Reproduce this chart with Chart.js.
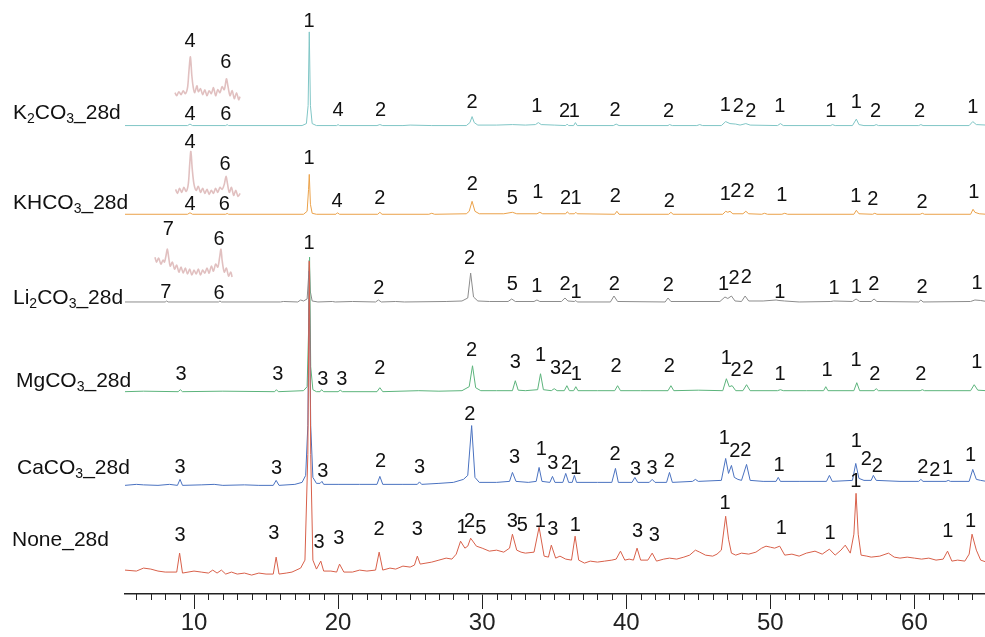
<!DOCTYPE html>
<html>
<head>
<meta charset="utf-8">
<script src="https://cdn.jsdelivr.net/npm/chart.js@4.4.1/dist/chart.umd.min.js"></script>
<style>
  html, body { margin: 0; background: #fff; }
  #wrap { width: 985px; height: 637px; }
</style>
</head>
<body>
<div id="wrap"><canvas id="xrd" width="985" height="637"></canvas></div>
<script>
// 2-theta axis
const majorTicks = [10, 20, 30, 40, 50, 60];
const minorTicks = [6, 7, 8, 9, 11, 12, 13, 14, 15, 16, 17, 18, 19, 21, 22, 23, 24, 25, 26, 27, 28, 29,
  31, 32, 33, 34, 35, 36, 37, 38, 39, 41, 42, 43, 44, 45, 46, 47, 48, 49, 51, 52, 53, 54, 55, 56, 57, 58, 59,
  61, 62, 63, 64];

// vertical offsets of the stacked patterns
const offsets = [20, 109, 203, 293, 381, 470]; // None, CaCO3, MgCO3, Li2CO3, KHCO3, K2CO3

// [2theta, intensity above own baseline]
const noneData = [[5.2,4],[6.0,3],[6.5,6],[7.0,5],[7.5,3],[8.0,2],[8.8,2],[9.0,21],[9.2,1],[10.0,3],[10.5,2],[11.0,1],[11.3,4],[11.6,1],[11.9,4],[12.2,0],[12.6,2],[13.0,0],[13.5,1],[14.0,-1],[14.5,1],[15.0,0],[15.5,0],[15.7,17],[15.9,0],[16.4,1],[16.8,2],[17.4,6],[17.7,14],[17.9,120],[18.0,314],[18.1,120],[18.25,14],[18.5,5],[18.8,13],[19.0,3],[19.5,3],[19.9,2],[20.1,10],[20.4,2],[21.0,2],[21.5,4],[22.0,3],[22.6,4],[22.85,22],[23.1,4],[23.6,6],[24.0,5],[24.5,8],[25.0,7],[25.3,9],[25.5,18],[25.7,10],[26.1,11],[26.5,12],[27.0,14],[27.5,16],[27.9,15],[28.2,20],[28.5,33],[28.8,26],[29.0,28],[29.2,36],[29.6,28],[30.0,26],[30.5,23],[31.0,24],[31.5,22],[31.9,26],[32.1,40],[32.4,24],[32.7,22],[33.0,21],[33.6,22],[33.95,47],[34.3,18],[34.6,17],[34.8,29],[35.1,16],[35.4,18],[35.8,15],[36.2,14],[36.45,38],[36.7,14],[37.1,11],[37.5,13],[38.0,12],[38.5,13],[39.0,14],[39.3,15],[39.6,23],[39.9,14],[40.2,15],[40.5,14],[40.75,26],[41.0,14],[41.5,14],[41.8,21],[42.1,13],[42.6,15],[43.0,16],[43.5,15],[44.0,17],[44.4,19],[44.8,24],[45.1,22],[45.5,19],[46.0,18],[46.3,20],[46.6,24],[46.9,58],[47.1,35],[47.3,21],[47.6,19],[48.0,21],[48.5,20],[49.0,22],[49.4,26],[49.7,28],[50.0,27],[50.3,26],[50.65,28],[51.0,19],[51.5,20],[52.0,18],[52.5,21],[53.1,23],[53.6,20],[54.1,25],[54.5,19],[54.9,24],[55.2,29],[55.55,21],[55.8,40],[55.95,81],[56.1,40],[56.3,19],[56.7,18],[57.0,17],[57.6,18],[58.2,21],[58.6,17],[59.0,16],[59.5,17],[60.0,16],[60.5,15],[61.0,16],[61.5,14],[62.0,15],[62.3,23],[62.6,13],[63.0,14],[63.5,13],[63.8,20],[64.0,40],[64.3,24],[64.6,14],[65.0,12]];

const caco3Data = [[5.2,0],[6.0,1],[6.5,0.5],[7.5,0],[8.3,1],[8.85,0],[9.03,6],[9.2,0],[10.5,0.5],[11.4,1],[12.0,0],[13.5,0.5],[14.5,0],[15.5,0],[15.7,5],[15.9,0],[17.0,1],[17.5,3],[17.75,10],[17.9,60],[18.0,215],[18.1,60],[18.25,8],[18.5,2],[18.75,2],[18.88,4],[19.0,1],[20.0,1],[21.5,1],[22.7,1],[22.9,9],[23.1,1],[24.5,1],[25.5,1],[25.65,3.5],[25.8,1],[27.0,2],[28.0,3],[28.7,6],[29.0,10],[29.27,60],[29.5,8],[29.8,3],[31.0,3],[31.9,4],[32.1,13],[32.35,4],[33.2,3],[33.75,4],[33.95,18],[34.15,4],[34.7,3],[34.88,9],[35.05,3],[35.6,3],[35.8,12],[36.0,3],[36.25,3],[36.4,10],[36.55,3],[38.0,3],[39.0,3],[39.25,17],[39.45,3],[40.4,3],[40.6,8],[40.8,3],[41.6,3],[41.8,6],[42.0,3],[42.8,3],[43.0,13],[43.2,3],[44.6,4],[44.8,6],[45.0,4],[46.6,5],[46.9,27],[47.1,12],[47.3,20],[47.5,8],[47.75,6],[48.0,5],[48.35,21],[48.6,5],[49.5,4],[50.4,4],[50.55,8],[50.7,4],[52.0,4],[53.9,4],[54.1,10],[54.3,4],[55.7,5],[55.93,22],[56.15,7],[56.5,5],[57.0,5],[57.15,10],[57.35,5],[59.0,4],[60.3,4],[60.45,6],[60.6,4],[62.2,4],[62.35,5],[62.5,4],[63.8,4],[64.05,16],[64.3,6],[64.6,5],[65.0,4]];

const mgco3Data = [[5.2,0],[6.5,0.5],[8.9,0],[9.05,2],[9.2,0],[12.0,0.5],[15.6,0],[15.72,2],[15.85,0],[17.6,1],[17.85,5],[17.95,60],[18.02,135],[18.1,25],[18.25,2],[18.5,0],[18.75,0],[18.85,2],[19.0,0],[20.0,0],[20.15,1.5],[20.3,0],[22.7,0],[22.9,4],[23.1,0],[25.6,1],[27.0,0.5],[28.6,1],[29.1,5],[29.33,26],[29.55,4],[29.9,1],[31.0,1],[32.1,1],[32.3,11],[32.5,1.5],[33.0,1],[33.85,2],[34.05,18],[34.25,2],[34.8,1],[35.0,3],[35.2,1],[35.7,1],[35.88,6],[36.05,1],[36.35,1],[36.5,5],[36.65,1],[38.0,1],[39.2,1],[39.4,6],[39.6,1],[41.0,1],[42.9,1],[43.1,6],[43.3,1],[45.0,1.5],[46.7,1],[46.95,13],[47.15,5],[47.35,6],[47.6,1],[48.1,1],[48.35,7],[48.6,1],[50.5,1],[50.7,2],[50.9,1],[52.5,1],[53.7,1],[53.85,5],[54.0,1],[55.8,1],[56.0,9],[56.2,1],[57.2,1],[57.35,3],[57.5,1],[60.4,1],[60.55,2],[60.7,1],[63.9,1],[64.15,7],[64.4,1.5],[65.0,1]];

const li2co3Data = [[5.2,0],[8.0,0],[8.1,1],[8.2,0],[11.7,0],[11.8,1],[11.9,0],[16.0,0],[16.2,0.5],[17.2,0],[17.4,2],[17.6,1],[17.85,3],[17.95,25],[18.0,42],[18.08,10],[18.2,1],[18.6,0],[19.6,0.5],[19.8,0],[21.0,0.5],[22.6,0],[22.8,2],[23.0,0],[24.0,0.5],[24.6,0],[27.5,0.5],[28.6,1],[29.0,4],[29.2,29],[29.4,5],[29.7,1],[30.5,0.5],[31.8,0.5],[32.05,3],[32.3,0.5],[33.6,0.5],[33.8,2],[34.0,0.5],[35.5,0.5],[35.75,4],[35.95,1],[36.4,0.5],[36.5,1.5],[36.6,0],[38.9,0],[39.15,6],[39.4,0.5],[42.7,0],[42.9,4],[43.1,0.5],[46.5,0.5],[46.85,5],[47.05,3.5],[47.3,6],[47.55,1],[48.0,0.5],[48.25,6],[48.5,1],[49.5,1],[50.4,2],[50.6,1.5],[51.0,1],[52.0,0],[54.2,0.5],[54.4,1],[55.7,0.5],[55.95,3],[56.2,0.5],[57.0,0.5],[57.2,3],[57.4,0.5],[60.3,0],[60.45,2],[60.6,0],[63.9,0.5],[64.2,2],[64.6,1.5],[65.0,0.5]];

const khco3Data = [[5.2,0],[9.55,0],[9.72,1.5],[9.9,0],[12.2,0],[12.3,0.8],[12.4,0],[17.6,0],[17.85,3],[17.95,25],[18.0,40],[18.08,10],[18.2,1],[18.5,0],[19.85,0],[19.95,1.5],[20.1,0],[22.75,0],[22.9,2],[23.05,0],[26.3,0],[26.5,1],[26.7,0],[28.9,0.5],[29.1,3],[29.3,13],[29.5,3],[29.8,0.5],[31.5,0.5],[32.1,2],[32.4,0.5],[33.8,0.5],[34.0,2],[34.2,0.5],[35.8,0.5],[35.9,2.5],[36.05,0.5],[36.4,0.5],[36.5,2],[36.6,0.5],[39.2,0],[39.35,3],[39.5,0],[42.95,0],[43.1,2],[43.25,0],[46.7,0],[46.9,3],[47.05,2],[47.2,3],[47.4,0.5],[48.1,0.5],[48.3,3],[48.5,0.5],[49.4,0],[49.6,1],[49.8,0],[50.8,0],[51.0,1],[51.2,0],[55.8,0],[55.97,4],[56.15,0.5],[57.1,0],[57.25,1],[57.4,0],[60.4,0],[60.55,1],[60.7,0],[63.9,0],[64.07,5],[64.2,2],[64.5,0.5],[65.0,0]];

const k2co3Data = [[5.2,0],[9.55,0],[9.72,1.5],[9.9,0],[12.2,0],[12.3,1],[12.4,0],[17.5,0],[17.8,2],[17.92,20],[18.0,94],[18.08,20],[18.2,2],[18.5,0],[19.9,0],[20.0,1],[20.1,0],[22.7,0],[22.9,1],[23.1,0],[24.5,0],[25.0,0.5],[26.5,0],[28.9,0],[29.15,3],[29.3,9],[29.45,3],[29.7,0.5],[31.0,0.5],[32.1,1],[33.0,0.5],[33.7,1],[33.9,3],[34.1,1],[35.0,0.5],[35.8,0],[35.9,1.5],[36.0,0],[36.35,0],[36.47,3],[36.6,0],[39.1,0],[39.3,1.5],[39.5,0],[42.9,0],[43.0,1],[43.2,0],[44.9,0],[45.1,1],[45.3,0],[46.6,0],[46.9,4],[47.2,2],[47.6,1.5],[47.9,0.5],[48.3,2],[48.6,0.5],[50.5,0],[50.7,2],[50.9,0],[54.2,0],[54.3,1],[54.5,0],[55.7,0],[55.97,6.5],[56.15,1],[56.5,0],[57.2,0],[57.35,1],[57.5,0],[60.3,0],[60.45,1],[60.6,0],[63.8,0],[64.05,4],[64.3,1],[65.0,0.5]];

// magnified insets (pasted zooms of the 4/6/7 reflections), relative to the row baseline
const k2co3Inset = [[8.68,33],[8.8,30],[8.95,34],[9.1,31],[9.25,35],[9.4,32],[9.55,38],[9.65,55],[9.75,69],[9.85,50],[9.95,38],[10.05,33],[10.2,40],[10.3,34],[10.45,37],[10.6,31],[10.75,36],[10.9,30],[11.05,35],[11.2,32],[11.35,38],[11.5,30],[11.65,36],[11.8,33],[11.95,39],[12.1,36],[12.25,47],[12.35,40],[12.5,30],[12.65,35],[12.8,27],[12.95,33],[13.1,26],[13.19,29]];
const khco3Inset = [[8.72,25],[8.85,21],[9.0,26],[9.15,22],[9.3,27],[9.45,23],[9.6,30],[9.7,50],[9.78,63],[9.88,45],[10.0,30],[10.15,24],[10.3,28],[10.45,22],[10.6,26],[10.75,21],[10.9,25],[11.05,20],[11.2,24],[11.35,21],[11.5,26],[11.65,22],[11.8,27],[11.95,25],[12.1,30],[12.22,38],[12.32,31],[12.45,22],[12.6,27],[12.75,19],[12.9,24],[13.05,18],[13.2,21]];
const li2co3Inset = [[7.29,45],[7.4,40],[7.55,44],[7.7,38],[7.85,42],[7.95,40],[8.05,46],[8.15,53],[8.25,44],[8.35,36],[8.5,40],[8.65,33],[8.8,37],[8.95,30],[9.1,35],[9.25,29],[9.4,34],[9.55,28],[9.7,33],[9.85,27],[10.0,32],[10.15,28],[10.3,33],[10.45,27],[10.6,32],[10.75,29],[10.9,34],[11.05,29],[11.2,36],[11.35,31],[11.5,38],[11.65,35],[11.78,45],[11.87,53],[11.95,42],[12.1,30],[12.25,34],[12.4,26],[12.55,30],[12.64,25]];

// phase labels: [2theta, phase number, height above the x axis]
const noneLabels = [[9.03,'3',59],[15.54,'3',61],[18.68,'3',52],[20.05,'3',56],[22.84,'2',65],[25.5,'3',65],[28.6,'1',67],[29.13,'2',73],[29.9,'5',66],[32.09,'3',73],[32.78,'5',69],[34.03,'1',73],[34.9,'3',65],[36.47,'1',69],[40.79,'3',63],[41.95,'3',59],[46.85,'1',91],[50.77,'1',66],[54.14,'1',61],[55.93,'1',113],[62.32,'1',63],[63.9,'1',73]];
const caco3Labels = [[9.03,'3',127],[15.73,'3',126],[18.94,'3',123],[22.94,'2',133],[25.66,'3',127],[29.15,'2',180],[32.25,'3',137],[34.1,'1',145],[34.9,'3',131],[35.85,'2',131],[36.5,'1',126],[39.23,'2',140],[40.64,'3',125],[41.8,'3',126],[42.99,'2',133],[46.8,'1',156],[47.54,'2',143],[48.3,'2',144],[50.6,'1',129],[54.15,'1',133],[55.96,'1',153],[56.66,'2',135],[57.42,'2',128],[60.59,'2',127],[61.42,'2',124],[62.3,'1',126],[63.9,'1',139]];
const mgco3Labels = [[9.1,'3',220],[15.82,'3',220],[18.94,'3',215],[20.26,'3',215],[22.89,'2',226],[29.27,'2',244],[32.3,'3',232],[34.05,'1',239],[35.09,'3',226],[35.85,'2',226],[36.54,'1',220],[39.3,'2',228],[42.99,'2',228],[46.94,'1',236],[47.63,'2',224],[48.46,'2',226],[50.68,'1',220],[53.94,'1',224],[55.95,'1',234],[57.26,'2',220],[60.45,'2',220],[64.33,'1',232]];
const li2co3Labels = [[17.98,'1',352],[8.22,'7',366],[11.73,'6',356],[8.04,'7',303],[11.73,'6',302],[22.82,'2',307],[29.13,'2',337],[32.09,'5',311],[33.79,'1',309],[35.76,'2',311],[36.52,'1',303],[39.18,'2',311],[42.92,'2',310],[46.75,'1',311],[47.49,'2',317],[48.34,'2',318],[50.66,'1',303],[54.42,'1',307],[55.97,'1',308],[57.19,'2',311],[60.54,'2',308],[64.35,'1',312]];
const khco3Labels = [[17.98,'1',437],[9.72,'4',453],[12.15,'6',431],[9.72,'4',391],[12.1,'6',391],[19.93,'4',394],[22.89,'2',397],[29.31,'2',411],[32.09,'5',397],[33.86,'1',403],[35.78,'2',397],[36.52,'1',397],[39.24,'2',399],[42.99,'2',394],[46.87,'1',401],[47.61,'2',404],[48.53,'2',404],[50.8,'1',400],[55.93,'1',399],[57.12,'2',396],[60.54,'2',393],[64.12,'1',403]];
const k2co3Labels = [[17.98,'1',574],[9.72,'4',554],[12.2,'6',533],[9.72,'4',481],[12.2,'6',481],[20.0,'4',485],[22.94,'2',485],[29.29,'2',493],[33.79,'1',489],[35.71,'2',484],[36.4,'1',484],[39.22,'2',485],[42.94,'2',484],[46.87,'1',490],[47.77,'2',489],[48.65,'2',484],[50.66,'1',489],[54.19,'1',484],[55.97,'1',493],[57.31,'2',484],[60.36,'2',484],[64.06,'1',488]];

// sample names, [text, isSubscript]
const noneName = [['None_28d', 0]];
const caco3Name = [['CaCO', 0], ['3', 1], ['_28d', 0]];
const mgco3Name = [['MgCO', 0], ['3', 1], ['_28d', 0]];
const li2co3Name = [['Li', 0], ['2', 1], ['CO', 0], ['3', 1], ['_28d', 0]];
const khco3Name = [['KHCO', 0], ['3', 1], ['_28d', 0]];
const k2co3Name = [['K', 0], ['2', 1], ['CO', 0], ['3', 1], ['_28d', 0]];

const FONT = '"Liberation Sans", Arial, sans-serif';

const rows = [
  { data: noneData, off: offsets[0], color: '#d8604a', labels: noneLabels, name: noneName, nx: 12, ny: 540 },
  { data: caco3Data, off: offsets[1], color: '#4a72c0', labels: caco3Labels, name: caco3Name, nx: 17, ny: 468 },
  { data: mgco3Data, off: offsets[2], color: '#5cb47c', labels: mgco3Labels, name: mgco3Name, nx: 16, ny: 381 },
  { data: li2co3Data, off: offsets[3], color: '#8c8c8c', labels: li2co3Labels, name: li2co3Name, nx: 13, ny: 298 },
  { data: khco3Data, off: offsets[4], color: '#eba24a', labels: khco3Labels, name: khco3Name, nx: 13, ny: 203 },
  { data: k2co3Data, off: offsets[5], color: '#80c6c6', labels: k2co3Labels, name: k2co3Name, nx: 13, ny: 113 }
];
const insets = [
  { data: li2co3Inset, off: offsets[3] },
  { data: khco3Inset, off: offsets[4] },
  { data: k2co3Inset, off: offsets[5] }
];

const toPts = (arr, off) => arr.map(p => ({ x: p[0], y: p[1] + off }));

const datasets = rows.map(r => ({
  data: toPts(r.data, r.off),
  borderColor: r.color,
  borderWidth: 1,
  pointRadius: 0,
  tension: 0,
  fill: false
})).concat(insets.map(s => ({
  data: toPts(s.data, s.off),
  borderColor: 'rgba(200,140,140,0.55)',
  borderWidth: 1.6,
  pointRadius: 0,
  tension: 0.3,
  fill: false
})));

const annotate = {
  id: 'annotate',
  afterDatasetsDraw(chart) {
    const c = chart.ctx, xs = chart.scales.x, ys = chart.scales.y;
    c.save();
    c.fillStyle = '#111';
    c.textAlign = 'center';
    c.textBaseline = 'middle';
    c.font = '20px ' + FONT;
    rows.forEach(r => r.labels.forEach(l => {
      c.fillText(l[1], xs.getPixelForValue(l[0]), ys.getPixelForValue(l[2]));
    }));
    // sample names with subscripts
    c.textAlign = 'left';
    c.textBaseline = 'middle';
    rows.forEach(r => {
      let x = r.nx;
      r.name.forEach(part => {
        c.font = (part[1] ? '14px ' : '21px ') + FONT;
        c.fillText(part[0], x, r.ny + (part[1] ? 6 : 0));
        x += c.measureText(part[0]).width;
      });
    });
    // minor ticks
    const b = chart.chartArea.bottom;
    c.strokeStyle = '#222';
    c.lineWidth = 1;
    c.beginPath();
    minorTicks.forEach(v => {
      const px = Math.round(xs.getPixelForValue(v)) + 0.5;
      c.moveTo(px, b);
      c.lineTo(px, b + 6);
    });
    c.stroke();
    c.restore();
  }
};

new Chart(document.getElementById('xrd'), {
  type: 'line',
  data: { datasets },
  options: {
    responsive: false,
    animation: false,
    layout: { padding: { left: 125, right: 0, top: 0, bottom: 0 } },
    plugins: { legend: { display: false }, tooltip: { enabled: false } },
    scales: {
      x: {
        type: 'linear',
        min: 5.21,
        max: 64.9,
        afterBuildTicks: s => { s.ticks = majorTicks.map(v => ({ value: v })); },
        grid: { drawOnChartArea: false, drawTicks: true, tickLength: 15, tickColor: '#222', tickWidth: 1 },
        border: { display: true, color: '#222', width: 1.5 },
        ticks: { color: '#222', padding: 2, maxRotation: 0, autoSkip: false, font: { family: FONT, size: 24, lineHeight: 1 } }
      },
      y: { display: false, min: 0, max: 596 }
    }
  },
  plugins: [annotate]
});
</script>
</body>
</html>
